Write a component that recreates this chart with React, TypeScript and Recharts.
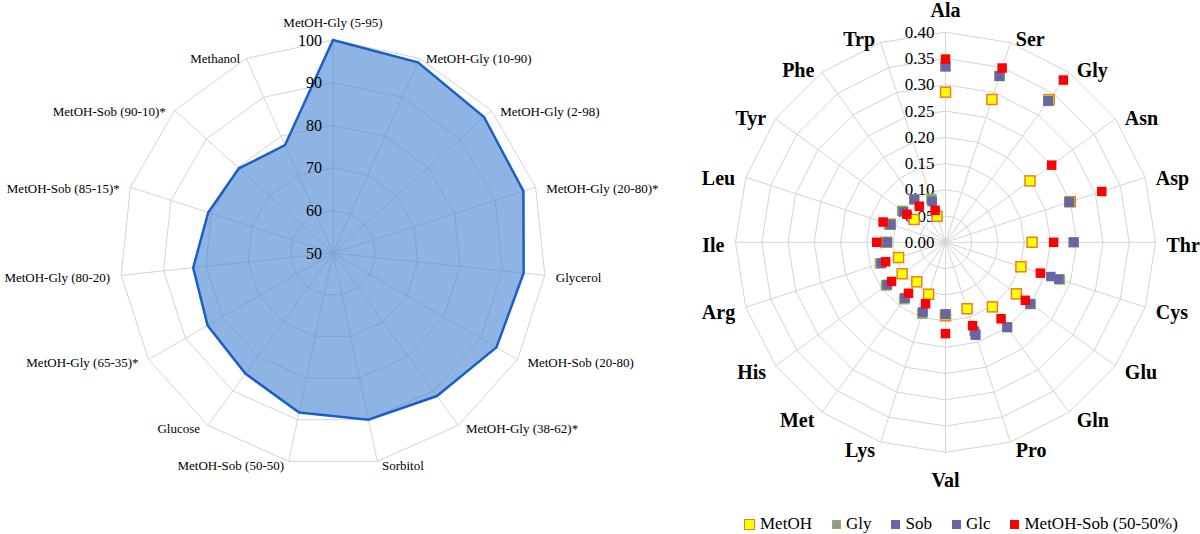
import React from 'react';
import { RadarChart, Radar, PolarGrid, PolarAngleAxis, PolarRadiusAxis } from 'recharts';

// left chart: relative yield per cultivation condition
const conditions = [
  'MetOH-Gly (5-95)', 'MetOH-Gly (10-90)', 'MetOH-Gly (2-98)', 'MetOH-Gly (20-80)*', 'Glycerol',
  'MetOH-Sob (20-80)', 'MetOH-Gly (38-62)*', 'Sorbitol', 'MetOH-Sob (50-50)', 'Glucose',
  'MetOH-Gly (65-35)*', 'MetOH-Gly (80-20)', 'MetOH-Sob (85-15)*', 'MetOH-Sob (90-10)*', 'Methanol',
];
const yields = [100, 99, 97.7, 97, 95, 94.3, 91.5, 90, 88.3, 85, 84, 83, 80.8, 79.7, 77.7];

// right chart: amino acid fractions
const aminoAcids = [
  'Ala', 'Ser', 'Gly', 'Asn', 'Asp', 'Thr', 'Cys', 'Glu', 'Gln', 'Pro',
  'Val', 'Lys', 'Met', 'His', 'Arg', 'Ile', 'Leu', 'Tyr', 'Phe', 'Trp',
];
const metoh = [0.286, 0.286, 0.336, 0.199, 0.25, 0.165, 0.151, 0.167, 0.152, 0.133, 0.14, 0.104, 0.093, 0.102, 0.094, 0.113, 0.112, 0.074, null, 0.052];
const gly = [0.335, 0.333, 0.333, null, 0.248, 0.244, 0.229, 0.2, 0.2, 0.184, 0.137, 0.143, 0.134, 0.14, 0.131, 0.111, 0.11, 0.102, 0.101, 0.087];
const sob = [0.335, 0.333, 0.333, null, 0.248, 0.244, 0.211, 0.2, 0.2, 0.178, 0.137, 0.14, 0.131, 0.137, 0.128, 0.111, 0.11, 0.099, 0.101, 0.082];
const glc = [0.335, 0.333, 0.333, null, 0.248, 0.244, 0.227, 0.2, 0.2, 0.186, 0.137, 0.14, 0.131, 0.137, 0.128, 0.111, 0.11, 0.099, 0.101, 0.082];
const metohSob = [0.349, 0.349, 0.382, 0.25, 0.313, 0.206, 0.19, 0.188, 0.18, 0.167, 0.174, 0.123, 0.12, 0.127, 0.12, 0.131, 0.125, 0.091, 0.085, 0.064];

const leftData = conditions.map((name, i) => ({ name, value: yields[i] }));
const rightData = aminoAcids.map((name, i) => {
  const row: any = { name };
  if (metoh[i] != null) row.metoh = metoh[i];
  if (gly[i] != null) row.gly = gly[i];
  if (sob[i] != null) row.sob = sob[i];
  if (glc[i] != null) row.glc = glc[i];
  if (metohSob[i] != null) row.mix = metohSob[i];
  return row;
});

const FONT = 'Liberation Serif, Times New Roman, serif';

const L_CX = 333, L_CY = 253, L_R = 213;
const R_CX = 345.5, R_CY = 242.3, R_R = 210;

// label placement: gx horizontal gap, gy vertical gap, gm gap for top/bottom labels, sh constant downward shift
const angleTick = (cx: number, cy: number, r: number, o: { gx: number; gy: number; gm: number; sh: number; size: number; bold: boolean }) => (props: any) => {
  const { x, y, payload } = props;
  const dx = x - cx, dy = y - cy;
  const len = Math.sqrt(dx * dx + dy * dy) || 1;
  const c = dx / len, s = -dy / len;
  let tx: number, ty: number;
  let anchor = 'middle';
  if (Math.abs(c) < 0.05) {
    tx = cx;
    ty = cy - (r + o.gm) * s + o.sh;
  } else {
    anchor = c > 0 ? 'start' : 'end';
    tx = cx + (r + o.gx) * c + (c > 0 ? 3 : -3);
    ty = cy - (r + o.gy) * s + o.sh;
  }
  return (
    <text x={tx} y={ty} textAnchor={anchor} dominantBaseline="central"
      style={{ fontFamily: FONT, fontSize: o.size, fontWeight: o.bold ? 'bold' : 'normal' }} fill="#000">
      {payload.value}
    </text>
  );
};

const radiusTick = (size: number, digits: number) => (props: any) => {
  const { x, y, payload } = props;
  return (
    <text x={x - 11} y={y} textAnchor="end" dominantBaseline="central"
      style={{ fontFamily: FONT, fontSize: size }} fill="#000">
      {Number(payload.value).toFixed(digits)}
    </text>
  );
};

const squareDot = (vals: (number | null)[], size: number, fill: string, stroke?: string) => (props: any) => {
  const { cx, cy, index } = props;
  if (vals[index] == null || !Number.isFinite(cx) || !Number.isFinite(cy)) return <g key={`d-${index}`} />;
  return (
    <rect key={`d-${index}`} x={cx - size / 2} y={cy - size / 2} width={size} height={size}
      fill={fill} stroke={stroke || 'none'} strokeWidth={stroke ? 1.5 : 0} />
  );
};

const legendItems = [
  { label: 'MetOH', fill: '#ffff00', stroke: '#ee7d22', size: 11 },
  { label: 'Gly', fill: '#969696', stroke: '#8fb84c', size: 9 },
  { label: 'Sob', fill: '#6767a8', stroke: null, size: 9 },
  { label: 'Glc', fill: '#6767a8', stroke: null, size: 9 },
  { label: 'MetOH-Sob (50-50%)', fill: '#ff0000', stroke: null, size: 9 },
];

export default function App() {
  return (
    <div style={{ position: 'absolute', left: 0, top: 0, width: 1200, height: 534, background: '#fff', fontFamily: FONT }}>
      <div style={{ position: 'absolute', left: 0, top: 0 }}>
        <RadarChart width={720} height={534} data={leftData} cx={L_CX} cy={L_CY} outerRadius={L_R}
          margin={{ top: 0, right: 0, bottom: 0, left: 0 }}>
          <PolarGrid gridType="polygon" stroke="#d4d4d4" strokeWidth={1} />
          <PolarAngleAxis dataKey="name" tickLine={false} axisLine={false}
            tick={angleTick(L_CX, L_CY, L_R, { gx: 8, gy: 2, gm: 20, sh: 2, size: 13, bold: false })} />
          <Radar dataKey="value" stroke="#1a5fc4" strokeWidth={2.5} fill="#4382d0" fillOpacity={0.6}
            dot={false} isAnimationActive={false} />
          <PolarRadiusAxis angle={90} domain={[50, 100]} tickCount={6} axisLine={false}
            tick={radiusTick(16, 0)} />
        </RadarChart>
      </div>

      <div style={{ position: 'absolute', left: 600, top: 0 }}>
        <RadarChart width={600} height={534} data={rightData} cx={R_CX} cy={R_CY} outerRadius={R_R}
          margin={{ top: 0, right: 0, bottom: 0, left: 0 }}>
          <PolarGrid gridType="polygon" stroke="#d4d4d4" strokeWidth={1} />
          <PolarAngleAxis dataKey="name" tickLine={false} axisLine={false}
            tick={angleTick(R_CX, R_CY, R_R, { gx: 8, gy: 6, gm: 25, sh: 2.5, size: 20, bold: true })} />
          <PolarRadiusAxis angle={90} domain={[0, 0.4]} tickCount={9} allowDecimals={true} axisLine={false}
            tick={radiusTick(17, 2)} />
          <Radar name="MetOH" dataKey="metoh" stroke="none" fill="none" isAnimationActive={false}
            dot={squareDot(metoh, 10, '#ffff00', '#ee7d22')} />
          <Radar name="Gly" dataKey="gly" stroke="none" fill="none" isAnimationActive={false}
            dot={squareDot(gly, 9, '#969696', '#8fb84c')} />
          <Radar name="Sob" dataKey="sob" stroke="none" fill="none" isAnimationActive={false}
            dot={squareDot(sob, 9.5, '#6767a8')} />
          <Radar name="Glc" dataKey="glc" stroke="none" fill="none" isAnimationActive={false}
            dot={squareDot(glc, 9.5, '#6767a8')} />
          <Radar name="MetOH-Sob (50-50%)" dataKey="mix" stroke="none" fill="none" isAnimationActive={false}
            dot={squareDot(metohSob, 9.5, '#ff0000')} />
        </RadarChart>
      </div>

      <div style={{ position: 'absolute', left: 744, top: 514, display: 'flex', alignItems: 'center', gap: 20, fontSize: 17, whiteSpace: 'nowrap' }}>
        {legendItems.map((it) => (
          <div key={it.label} style={{ display: 'flex', alignItems: 'center', gap: 5 }}>
            <span style={{
              display: 'inline-block', width: it.size, height: it.size, background: it.fill,
              boxSizing: 'border-box', border: it.stroke ? `1.5px solid ${it.stroke}` : 'none',
            }} />
            <span>{it.label}</span>
          </div>
        ))}
      </div>
    </div>
  );
}
